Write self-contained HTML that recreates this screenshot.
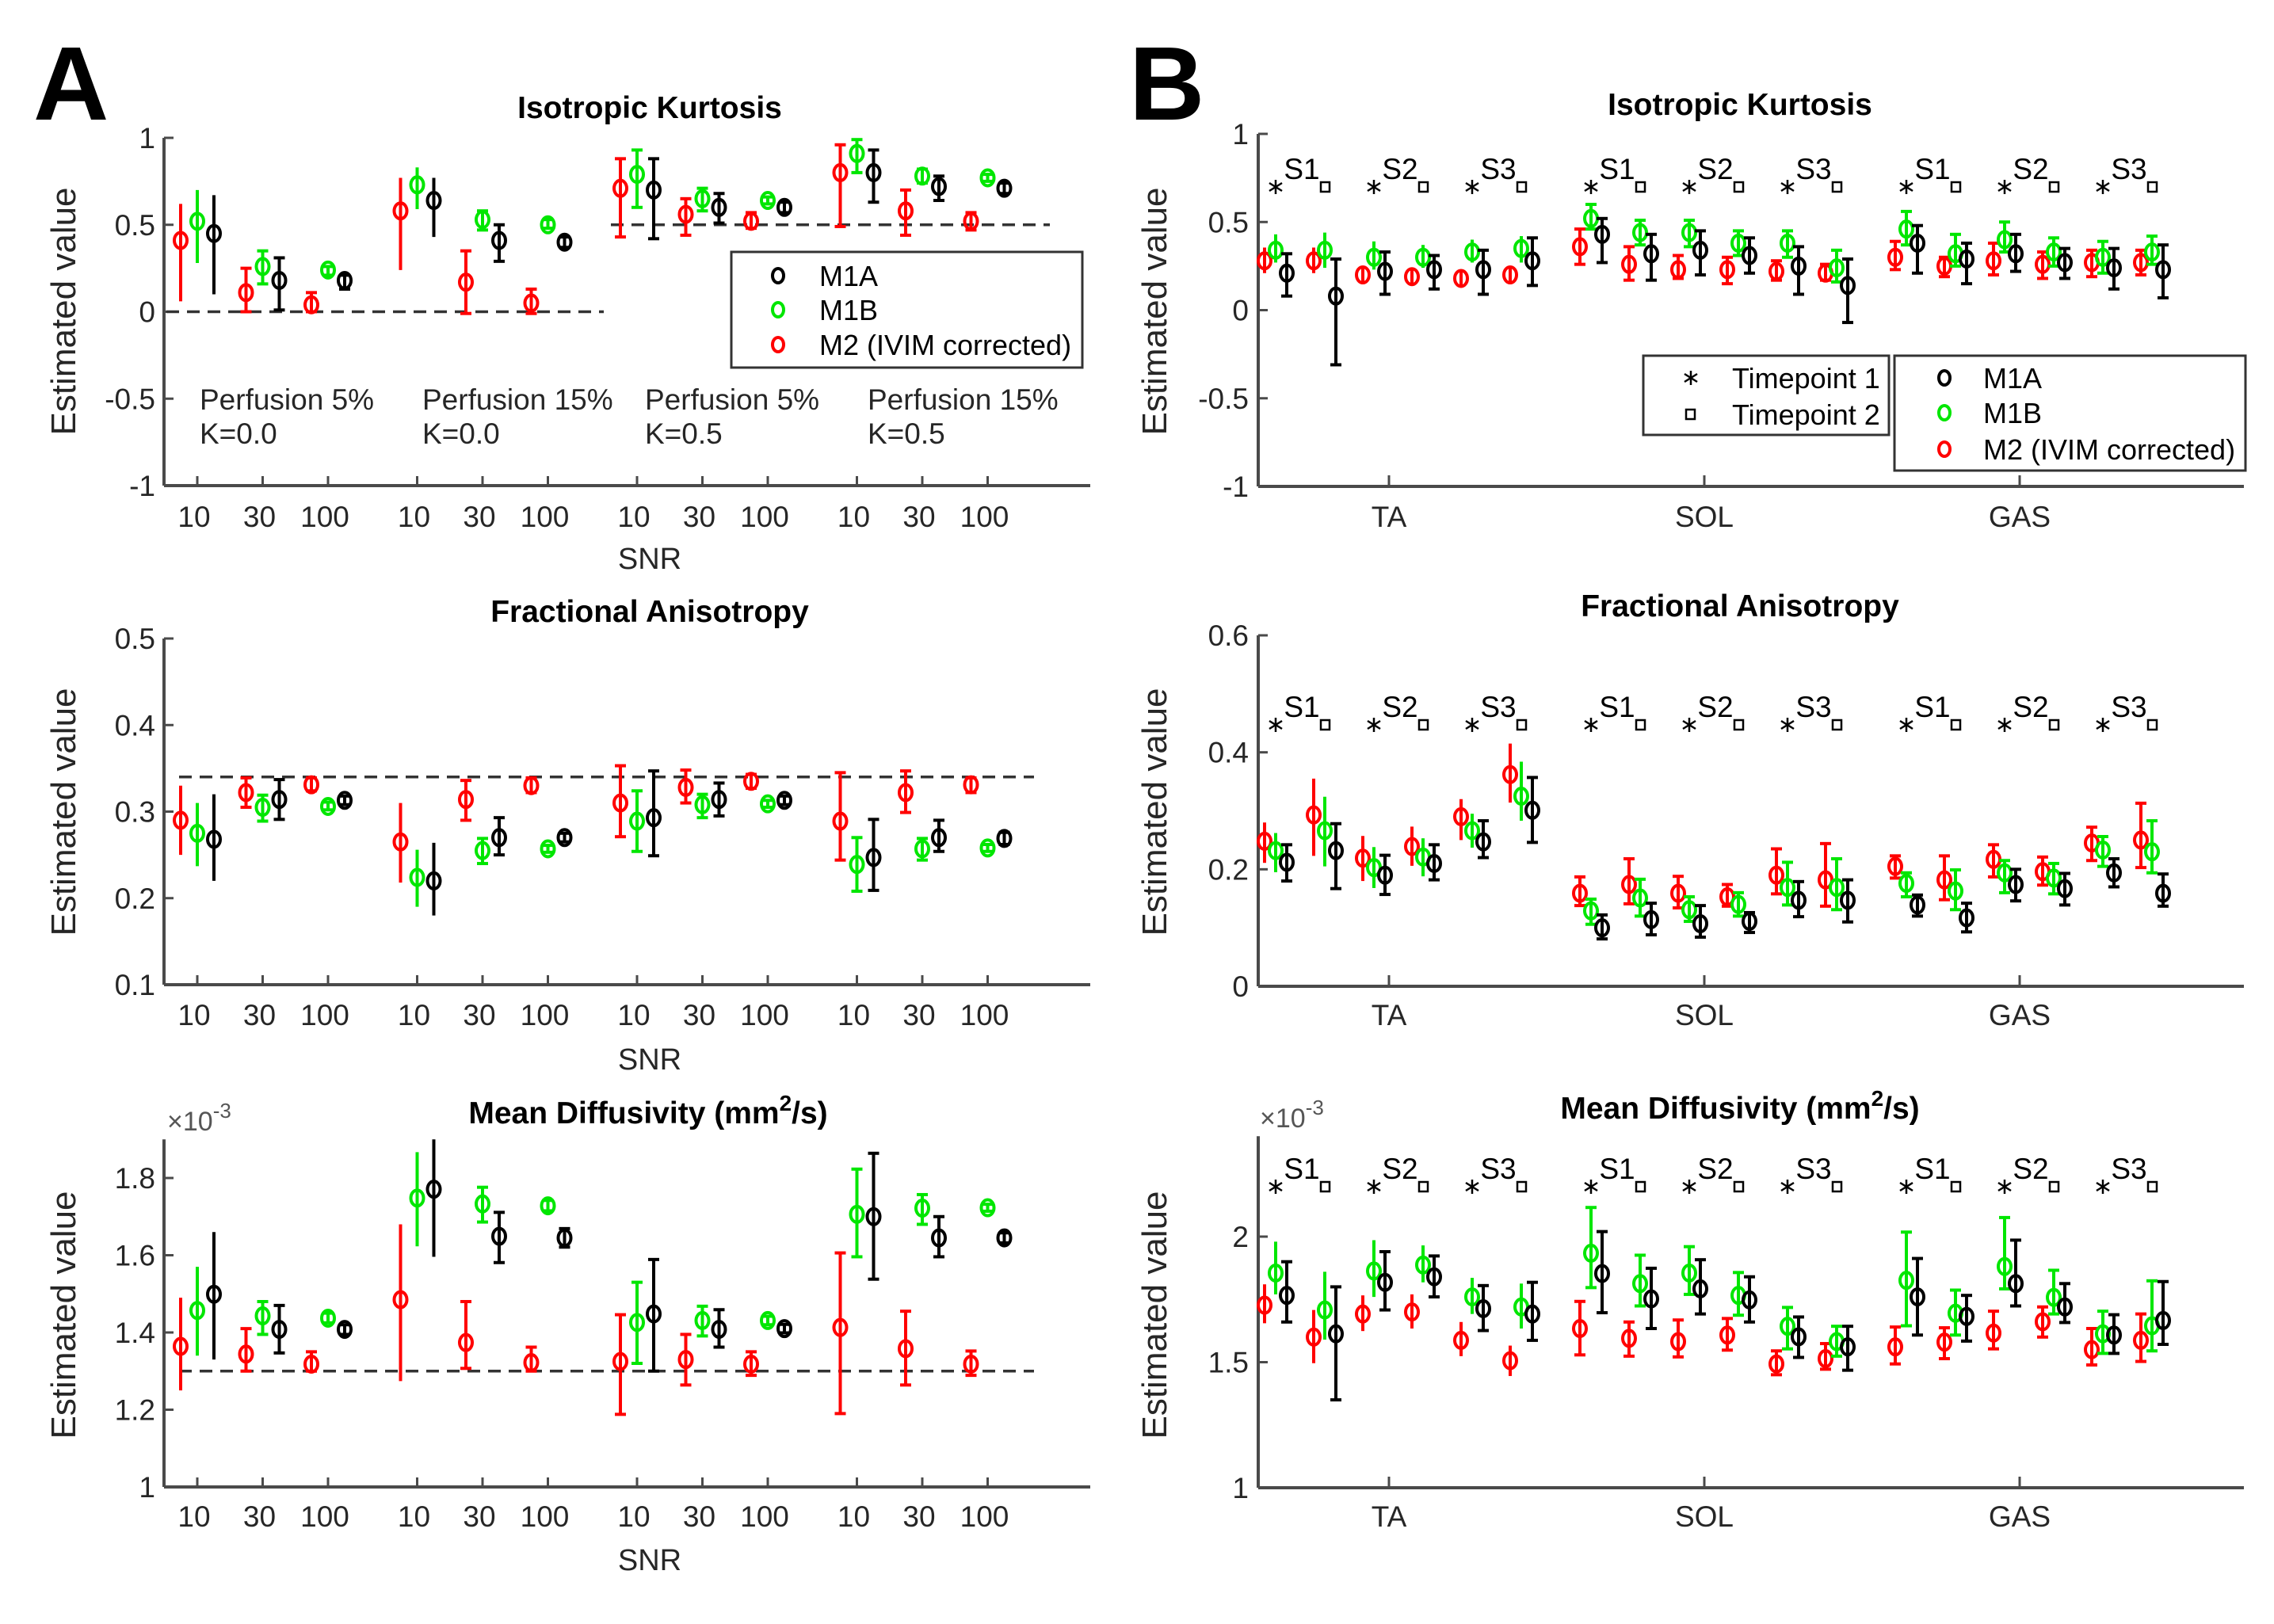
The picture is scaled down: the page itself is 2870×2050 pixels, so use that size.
<!DOCTYPE html>
<html><head><meta charset="utf-8"><style>
html,body{margin:0;padding:0;background:#fff;}
svg{display:block;font-family:"Liberation Sans",sans-serif;}
</style></head><body>
<svg id="fig" width="2870" height="2050" viewBox="0 0 2870 2050" xmlns="http://www.w3.org/2000/svg">
<rect width="2870" height="2050" fill="#fff"/>
<text x="42" y="151" font-size="132" font-weight="bold">A</text>
<text x="1425" y="151" font-size="132" font-weight="bold">B</text>
</svg>
<script>
// ---------- Panel A data (SNR simulations) ----------
const snrLabels = ["10","30","100","10","30","100","10","30","100","10","30","100"];
const perfLabels = ["Perfusion 5%","Perfusion 15%","Perfusion 5%","Perfusion 15%"];
const kLabels = ["K=0.0","K=0.0","K=0.5","K=0.5"];
const a1RedM = [0.41,0.11,0.04,0.58,0.17,0.05,0.71,0.56,0.52,0.80,0.58,0.52];
const a1RedLo = [0.06,0.0,0.0,0.24,-0.01,-0.01,0.43,0.44,0.48,0.49,0.44,0.47];
const a1RedHi = [0.62,0.25,0.11,0.77,0.35,0.13,0.88,0.65,0.57,0.96,0.70,0.57];
const a1GrnM = [0.52,0.26,0.24,0.73,0.53,0.50,0.79,0.65,0.64,0.91,0.78,0.77];
const a1GrnLo = [0.28,0.16,0.21,0.59,0.47,0.48,0.60,0.58,0.62,0.80,0.74,0.75];
const a1GrnHi = [0.70,0.35,0.26,0.83,0.58,0.53,0.93,0.71,0.66,0.99,0.82,0.79];
const a1BlkM = [0.45,0.18,0.18,0.64,0.41,0.40,0.70,0.60,0.60,0.80,0.72,0.71];
const a1BlkLo = [0.10,0.01,0.13,0.43,0.29,0.37,0.42,0.51,0.57,0.63,0.64,0.68];
const a1BlkHi = [0.67,0.31,0.21,0.77,0.50,0.43,0.88,0.68,0.63,0.93,0.78,0.74];

const a2RedM = [0.29,0.322,0.331,0.265,0.314,0.33,0.31,0.328,0.335,0.289,0.322,0.331];
const a2RedLo = [0.25,0.305,0.324,0.218,0.29,0.322,0.271,0.31,0.327,0.244,0.299,0.322];
const a2RedHi = [0.33,0.339,0.339,0.31,0.336,0.339,0.353,0.348,0.343,0.345,0.347,0.339];
const a2GrnM = [0.275,0.305,0.306,0.224,0.255,0.257,0.289,0.308,0.309,0.239,0.257,0.258];
const a2GrnLo = [0.237,0.289,0.302,0.19,0.24,0.253,0.254,0.293,0.305,0.208,0.244,0.254];
const a2GrnHi = [0.31,0.319,0.311,0.256,0.269,0.261,0.324,0.32,0.313,0.27,0.269,0.262];
const a2BlkM = [0.268,0.314,0.313,0.22,0.27,0.27,0.293,0.314,0.313,0.247,0.27,0.269];
const a2BlkLo = [0.22,0.291,0.308,0.18,0.25,0.265,0.249,0.295,0.308,0.209,0.254,0.262];
const a2BlkHi = [0.32,0.337,0.318,0.264,0.293,0.275,0.347,0.333,0.318,0.291,0.29,0.276];

const a3RedM = [1.364,1.344,1.318,1.485,1.374,1.322,1.325,1.33,1.318,1.413,1.358,1.318];
const a3RedLo = [1.25,1.30,1.30,1.274,1.307,1.30,1.188,1.264,1.289,1.19,1.264,1.289];
const a3RedHi = [1.49,1.41,1.35,1.68,1.48,1.362,1.446,1.395,1.35,1.606,1.455,1.352];
const a3GrnM = [1.457,1.443,1.437,1.748,1.733,1.728,1.426,1.431,1.431,1.706,1.722,1.723];
const a3GrnLo = [1.34,1.395,1.425,1.623,1.686,1.715,1.32,1.391,1.42,1.596,1.68,1.714];
const a3GrnHi = [1.57,1.48,1.45,1.867,1.776,1.742,1.53,1.468,1.442,1.823,1.757,1.732];
const a3BlkM = [1.499,1.408,1.408,1.771,1.649,1.645,1.448,1.408,1.41,1.70,1.645,1.645];
const a3BlkLo = [1.33,1.347,1.395,1.596,1.581,1.621,1.30,1.362,1.399,1.538,1.596,1.632];
const a3BlkHi = [1.66,1.47,1.42,1.90,1.711,1.669,1.589,1.459,1.421,1.864,1.70,1.658];

// ---------- Panel B data (muscles x sessions x timepoints) ----------
const muscles = ["TA","SOL","GAS"];
const sessions = ["S1","S2","S3"];
const b1RedM = [0.28,0.28,0.20,0.19,0.18,0.20,0.36,0.26,0.23,0.23,0.22,0.21,0.30,0.25,0.28,0.26,0.27,0.27];
const b1RedLo = [0.21,0.21,0.15,0.14,0.13,0.16,0.26,0.17,0.18,0.15,0.17,0.17,0.23,0.19,0.20,0.18,0.19,0.20];
const b1RedHi = [0.355,0.355,0.24,0.23,0.23,0.24,0.46,0.36,0.31,0.30,0.28,0.26,0.39,0.30,0.38,0.33,0.34,0.34];
const b1GrnM = [0.34,0.34,0.30,0.30,0.33,0.35,0.52,0.44,0.44,0.38,0.38,0.24,0.46,0.32,0.40,0.33,0.30,0.33];
const b1GrnLo = [0.27,0.24,0.23,0.24,0.27,0.27,0.46,0.37,0.36,0.31,0.30,0.16,0.37,0.25,0.33,0.25,0.21,0.26];
const b1GrnHi = [0.43,0.44,0.39,0.37,0.40,0.42,0.60,0.51,0.51,0.45,0.45,0.34,0.56,0.43,0.50,0.41,0.39,0.42];
const b1BlkM = [0.21,0.08,0.22,0.23,0.23,0.28,0.43,0.32,0.34,0.31,0.25,0.14,0.38,0.29,0.32,0.27,0.24,0.23];
const b1BlkLo = [0.08,-0.31,0.09,0.12,0.09,0.14,0.27,0.17,0.20,0.21,0.09,-0.07,0.21,0.15,0.22,0.18,0.12,0.07];
const b1BlkHi = [0.32,0.29,0.33,0.31,0.34,0.41,0.52,0.43,0.45,0.41,0.36,0.29,0.48,0.38,0.43,0.35,0.35,0.37];

const b2RedM = [0.248,0.293,0.219,0.239,0.29,0.362,0.159,0.174,0.159,0.153,0.19,0.182,0.205,0.182,0.217,0.196,0.245,0.25];
const b2RedLo = [0.211,0.223,0.18,0.206,0.25,0.314,0.138,0.141,0.134,0.137,0.158,0.137,0.185,0.148,0.187,0.173,0.215,0.203];
const b2RedHi = [0.28,0.355,0.257,0.273,0.32,0.415,0.187,0.218,0.188,0.174,0.235,0.244,0.223,0.223,0.242,0.221,0.272,0.313];
const b2GrnM = [0.232,0.266,0.203,0.221,0.266,0.325,0.129,0.151,0.131,0.14,0.169,0.169,0.176,0.163,0.194,0.185,0.233,0.23];
const b2GrnLo = [0.195,0.205,0.168,0.188,0.237,0.283,0.106,0.12,0.111,0.12,0.139,0.131,0.153,0.131,0.16,0.158,0.205,0.194];
const b2GrnHi = [0.262,0.324,0.238,0.253,0.295,0.384,0.149,0.183,0.153,0.16,0.212,0.218,0.194,0.199,0.215,0.21,0.256,0.283];
const b2BlkM = [0.212,0.232,0.19,0.21,0.247,0.301,0.10,0.114,0.107,0.111,0.147,0.147,0.139,0.117,0.174,0.167,0.194,0.159];
const b2BlkLo = [0.18,0.167,0.157,0.182,0.22,0.246,0.081,0.088,0.084,0.092,0.119,0.11,0.12,0.093,0.146,0.139,0.17,0.137];
const b2BlkHi = [0.242,0.278,0.224,0.242,0.283,0.357,0.122,0.142,0.138,0.126,0.179,0.182,0.156,0.142,0.2,0.193,0.218,0.192];

const b3RedM = [1.727,1.60,1.692,1.70,1.587,1.506,1.634,1.595,1.582,1.608,1.493,1.514,1.561,1.58,1.616,1.661,1.55,1.587];
const b3RedLo = [1.655,1.496,1.624,1.634,1.524,1.445,1.529,1.524,1.521,1.548,1.45,1.472,1.493,1.514,1.553,1.60,1.489,1.503];
const b3RedHi = [1.81,1.708,1.766,1.77,1.66,1.566,1.742,1.66,1.668,1.674,1.545,1.574,1.64,1.637,1.703,1.72,1.634,1.692];
const b3GrnM = [1.855,1.708,1.863,1.887,1.76,1.72,1.934,1.813,1.855,1.766,1.643,1.582,1.826,1.695,1.881,1.758,1.613,1.645];
const b3GrnLo = [1.77,1.59,1.76,1.818,1.692,1.634,1.797,1.724,1.77,1.687,1.553,1.524,1.645,1.608,1.792,1.692,1.535,1.545];
const b3GrnHi = [1.98,1.86,1.986,1.965,1.836,1.813,2.116,1.926,1.96,1.857,1.718,1.643,2.018,1.787,2.076,1.866,1.703,1.824];
const b3BlkM = [1.766,1.613,1.818,1.84,1.713,1.692,1.853,1.752,1.792,1.748,1.601,1.561,1.76,1.682,1.813,1.72,1.608,1.666];
const b3BlkLo = [1.66,1.35,1.708,1.76,1.626,1.587,1.697,1.634,1.692,1.66,1.519,1.468,1.608,1.584,1.724,1.658,1.535,1.571];
const b3BlkHi = [1.90,1.80,1.94,1.923,1.805,1.818,2.02,1.874,1.908,1.84,1.68,1.643,1.913,1.766,1.986,1.813,1.689,1.821];

const aTicks1 = [-1,-0.5,0,0.5,1];
const aTicks2 = [0.1,0.2,0.3,0.4,0.5];
const aTicks3 = [1,1.2,1.4,1.6,1.8];
const bTicks1 = [-1,-0.5,0,0.5,1];
const bTicks2 = [0,0.2,0.4,0.6];
const bTicks3 = [1,1.5,2];

const NS = "http://www.w3.org/2000/svg";
const svg = document.getElementById("fig");
const RED = "#ff0000", GRN = "#00e600", BLK = "#000000", AX = "#4a4a4a", TXT = "#262626";

function mk(tag, attrs, parent) {
  const e = document.createElementNS(NS, tag);
  for (const k in attrs) e.setAttribute(k, attrs[k]);
  (parent || svg).appendChild(e);
  return e;
}
function txt(x, y, s, size, anchor, parent, extra) {
  const t = mk("text", Object.assign({x: x, y: y, "font-size": size, "text-anchor": anchor || "middle", fill: TXT}, extra || {}), parent);
  t.textContent = s;
  return t;
}
function yScale(v0, v1, p0, p1) { return v => p0 + (v - v0) * (p1 - p0) / (v1 - v0); }

function drawAxes(g, x0, x1, yTop, yBot, y, ticks, labelX, fmt) {
  mk("line", {x1: x0, y1: yBot, x2: x1, y2: yBot, stroke: AX, "stroke-width": 4}, g);
  mk("line", {x1: x0, y1: yBot, x2: x0, y2: yTop, stroke: AX, "stroke-width": 4}, g);
  ticks.forEach(t => {
    const py = y(t);
    mk("line", {x1: x0, y1: py, x2: x0 + 12, y2: py, stroke: AX, "stroke-width": 3}, g);
    const lab = txt(labelX, py + 13, fmt ? fmt(t) : String(t), 37, "end", g);
    
    
  });
}
function drawPoint(g, x, y, m, lo, hi, color, capped) {
  const grp = mk("g", {}, g);
  
  
  mk("line", {x1: x, y1: y(lo), x2: x, y2: y(hi), stroke: color, "stroke-width": 4}, grp);
  if (capped) {
    [lo, hi].forEach(v => mk("line", {x1: x - 7, y1: y(v), x2: x + 7, y2: y(v), stroke: color, "stroke-width": 4}, grp));
  }
  mk("ellipse", {cx: x, cy: y(m), rx: 8, ry: 10, fill: "none", stroke: color, "stroke-width": 4}, grp);
}
function ylabel(x, y, parent) {
  const t = txt(x, y, "Estimated value", 44, "middle", parent, {transform: `rotate(-90 ${x} ${y})`});
  
  
}
function title(x, y, s, parent) {
  const t = txt(x, y, s, 39, "middle", parent, {"font-weight": "bold", fill: "#000"});
  
  
  return t;
}

// ---------- Panel A ----------
function panelA(name, yT, ticks, v0, v1, p0, p1, top, series, ref, tickY, snrY, fmt) {
  const g = mk("g", {});
  
  
  const y = yScale(v0, v1, p0, p1);
  drawAxes(g, 207, 1376, y(top), y(v0), y, ticks, 196, fmt);
  const xs = i => 249 + Math.floor(i / 3) * 277.5 + (i % 3) * 82.5;
  snrLabels.forEach((s, i) => {
    mk("line", {x1: xs(i), y1: y(v0), x2: xs(i), y2: y(v0) - 12, stroke: AX, "stroke-width": 3}, g);
    const t = txt(xs(i) - 4, tickY, s, 37, "middle", g);
    
    
  });
  const sn = txt(820, snrY, "SNR", 38, "middle", g);
  
  
  ref.forEach(r => mk("line", {x1: r[0], y1: y(r[2]), x2: r[1], y2: y(r[2]), stroke: "#333", "stroke-width": 3.5, "stroke-dasharray": "16 10"}, g));
  const offs = [-21, 0, 21], cols = [RED, GRN, BLK];
  series.forEach((s, k) => s[0].forEach((m, i) => drawPoint(g, xs(i) + offs[k], y, m, s[1][i], s[2][i], cols[k], i % 3 > 0 || Math.floor(i/3) >= 2)));
  return {g, y};
}
const A1 = panelA("panel-a-isotropic-kurtosis", 0, aTicks1, -1, 1, 613, 174, 1,
  [[a1RedM, a1RedLo, a1RedHi], [a1GrnM, a1GrnLo, a1GrnHi], [a1BlkM, a1BlkLo, a1BlkHi]],
  [[210, 762, 0], [771, 1325, 0.5]], 665, 718);
title(820, 149, "Isotropic Kurtosis", A1.g);
ylabel(95, 393, A1.g);
perfLabels.forEach((p, i) => {
  const x = 252 + i * 281;
  const t1 = txt(x, 517, p, 37, "start", A1.g);  
  const t2 = txt(x, 560, kLabels[i], 37, "start", A1.g);  
});
// legend A
(function () {
  const lg = mk("g", {});
  
  
  mk("rect", {x: 923, y: 318, width: 443, height: 146, fill: "#fff", stroke: "#333", "stroke-width": 3}, lg);
  [["M1A", BLK, 348], ["M1B", GRN, 391], ["M2 (IVIM corrected)", RED, 435]].forEach(e => {
    mk("ellipse", {cx: 982, cy: e[2], rx: 7, ry: 9, fill: "none", stroke: e[1], "stroke-width": 4}, lg);
    const t = txt(1034, e[2] + 13, e[0], 36, "start", lg, {fill: "#000"});
    
    
  });
})();

const A2 = panelA("panel-a-fractional-anisotropy", 0, aTicks2, 0.1, 0.5, 1243, 806, 0.5,
  [[a2RedM, a2RedLo, a2RedHi], [a2GrnM, a2GrnLo, a2GrnHi], [a2BlkM, a2BlkLo, a2BlkHi]],
  [[226, 1305, 0.34]], 1294, 1350);
title(820, 785, "Fractional Anisotropy", A2.g);
ylabel(95, 1025, A2.g);

const A3 = panelA("panel-a-mean-diffusivity", 0, aTicks3, 1.0, 1.8, 1877, 1487, 1.9,
  [[a3RedM, a3RedLo, a3RedHi], [a3GrnM, a3GrnLo, a3GrnHi], [a3BlkM, a3BlkLo, a3BlkHi]],
  [[226, 1305, 1.3]], 1927, 1982, t => t.toFixed(1).replace(/\.0$/, ""));
(function () {
  const t = txt(818, 1418, "", 39, "middle", A3.g, {"font-weight": "bold", fill: "#000"});
  
  
  t.innerHTML = 'Mean Diffusivity (mm<tspan dy="-16" font-size="28">2</tspan><tspan dy="16">/s)</tspan>';
  const e = txt(211, 1427, "", 34, "start", A3.g, {fill: "#555"});
  
  
  e.innerHTML = '×10<tspan dy="-16" font-size="26">-3</tspan>';
})();
ylabel(95, 1660, A3.g);

// ---------- Panel B ----------
function panelB(name, ticks, v0, v1, p0, p1, top, series, tickY, starY, fmt) {
  const g = mk("g", {});
  
  
  const y = yScale(v0, v1, p0, p1);
  drawAxes(g, 1588, 2832, y(top), y(v0), y, ticks, 1576, fmt);
  muscles.forEach((m, i) => {
    const x = 1753 + i * 398;
    mk("line", {x1: x, y1: y(v0), x2: x, y2: y(v0) - 14, stroke: AX, "stroke-width": 3}, g);
    const t = txt(x, tickY, m, 37, "middle", g);
    
    
  });
  const sx = (m, s) => 1610 + m * 398 + s * 124;
  for (let m = 0; m < 3; m++) for (let s = 0; s < 3; s++) {
    const x = sx(m, s);
    const st = mk("g", {stroke: "#000", "stroke-width": 2.5}, g);
    
    
    mk("line", {x1: x, y1: starY - 9, x2: x, y2: starY + 9}, st);
    mk("line", {x1: x - 8, y1: starY - 5, x2: x + 8, y2: starY + 5}, st);
    mk("line", {x1: x - 8, y1: starY + 5, x2: x + 8, y2: starY - 5}, st);
    const sq = mk("rect", {x: x + 57, y: starY - 6, width: 11, height: 12, fill: "none", stroke: "#000", "stroke-width": 2.5}, g);
    
    
    const lab = txt(x + 33, starY - 10, sessions[s], 37, "middle", g, {fill: "#000"});
    
    
  }
  const offs = [-14, 0, 14], cols = [RED, GRN, BLK];
  series.forEach((ser, k) => ser[0].forEach((mv, i) => {
    const m = Math.floor(i / 6), s = Math.floor((i % 6) / 2), tp = i % 2;
    drawPoint(g, sx(m, s) + tp * 62 + offs[k], y, mv, ser[1][i], ser[2][i], cols[k], m >= 1 || k === 2);
  }));
  return {g, y};
}
const B1 = panelB("panel-b-isotropic-kurtosis", bTicks1, -1, 1, 614, 169, 1,
  [[b1RedM, b1RedLo, b1RedHi], [b1GrnM, b1GrnLo, b1GrnHi], [b1BlkM, b1BlkLo, b1BlkHi]], 665, 236);
title(2196, 145, "Isotropic Kurtosis", B1.g);
ylabel(1472, 393, B1.g);
(function () {
  const lg = mk("g", {});
  
  
  mk("rect", {x: 2074, y: 449, width: 310, height: 100, fill: "#fff", stroke: "#333", "stroke-width": 3}, lg);
  const sy = 477, x = 2134;
  mk("line", {x1: x, y1: sy - 9, x2: x, y2: sy + 9, stroke: "#000", "stroke-width": 2.5}, lg);
  mk("line", {x1: x - 8, y1: sy - 5, x2: x + 8, y2: sy + 5, stroke: "#000", "stroke-width": 2.5}, lg);
  mk("line", {x1: x - 8, y1: sy + 5, x2: x + 8, y2: sy - 5, stroke: "#000", "stroke-width": 2.5}, lg);
  mk("rect", {x: x - 6, y: 517, width: 11, height: 12, fill: "none", stroke: "#000", "stroke-width": 2.5}, lg);
  const t1 = txt(2186, 490, "Timepoint 1", 36, "start", lg, {fill: "#000"});
   
  const t2 = txt(2186, 536, "Timepoint 2", 36, "start", lg, {fill: "#000"});
   
  const lg2 = mk("g", {});
  
  
  mk("rect", {x: 2391, y: 449, width: 443, height: 145, fill: "#fff", stroke: "#333", "stroke-width": 3}, lg2);
  [["M1A", BLK, 477], ["M1B", GRN, 521], ["M2 (IVIM corrected)", RED, 567]].forEach(e => {
    mk("ellipse", {cx: 2454, cy: e[2], rx: 7, ry: 9, fill: "none", stroke: e[1], "stroke-width": 4}, lg2);
    const t = txt(2503, e[2] + 13, e[0], 36, "start", lg2, {fill: "#000"});
    
    
  });
})();

const B2 = panelB("panel-b-fractional-anisotropy", bTicks2, 0, 0.6, 1245, 802, 0.6,
  [[b2RedM, b2RedLo, b2RedHi], [b2GrnM, b2GrnLo, b2GrnHi], [b2BlkM, b2BlkLo, b2BlkHi]], 1294, 915);
title(2196, 778, "Fractional Anisotropy", B2.g);
ylabel(1472, 1025, B2.g);

const B3 = panelB("panel-b-mean-diffusivity", bTicks3, 1, 2, 1878, 1561, 2.4,
  [[b3RedM, b3RedLo, b3RedHi], [b3GrnM, b3GrnLo, b3GrnHi], [b3BlkM, b3BlkLo, b3BlkHi]], 1927, 1498);
(function () {
  const t = txt(2196, 1412, "", 39, "middle", B3.g, {"font-weight": "bold", fill: "#000"});
  
  
  t.innerHTML = 'Mean Diffusivity (mm<tspan dy="-16" font-size="28">2</tspan><tspan dy="16">/s)</tspan>';
  const e = txt(1590, 1423, "", 34, "start", B3.g, {fill: "#555"});
  
  
  e.innerHTML = '×10<tspan dy="-16" font-size="26">-3</tspan>';
})();
ylabel(1472, 1660, B3.g);
</script>
</body></html>
